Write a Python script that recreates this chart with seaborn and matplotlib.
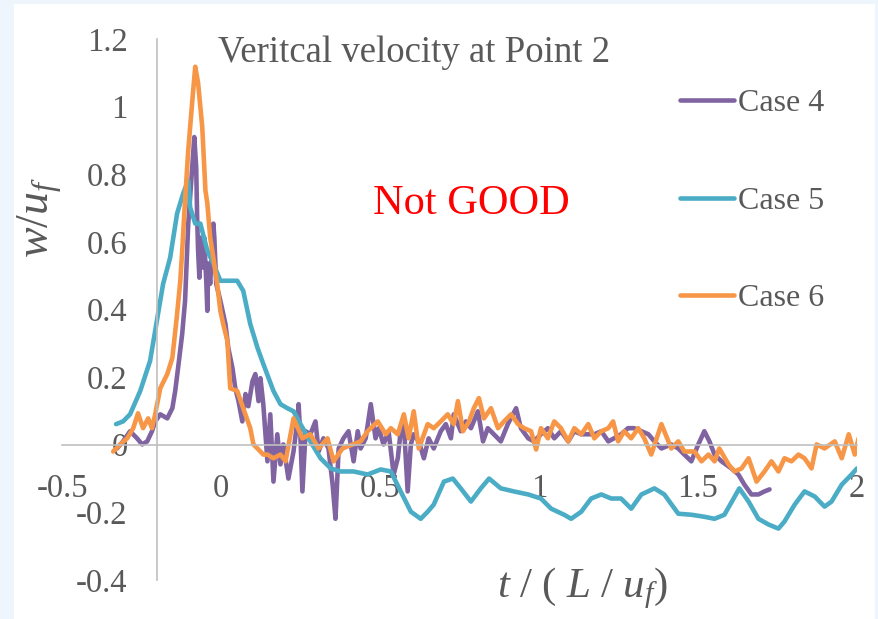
import numpy as np
import pandas as pd
import matplotlib
matplotlib.use("Agg")
import matplotlib.pyplot as plt
from matplotlib.patches import Rectangle
from matplotlib.lines import Line2D
import seaborn as sns

# ---------------- data ----------------
case_names = ["Case 4", "Case 5", "Case 6"]
case_colors = ["#8064A2", "#4BACC6", "#F79646"]

case4_t = [-0.327, -0.308, -0.286, -0.264, -0.248, -0.232, -0.217, -0.207, -0.191, -0.169,
           -0.153, -0.144, -0.135, -0.122, -0.113, -0.103, -0.094, -0.087, -0.084, -0.078,
           -0.075, -0.072, -0.068, -0.062, -0.056, -0.053, -0.046, -0.043, -0.040, -0.034,
           -0.024, -0.021, -0.015, -0.002, 0.014, 0.023, 0.036, 0.045, 0.055, 0.067,
           0.077, 0.086, 0.099, 0.108, 0.118, 0.124, 0.133, 0.146, 0.155, 0.165,
           0.177, 0.187, 0.196, 0.212, 0.228, 0.240, 0.244, 0.250, 0.256, 0.266,
           0.281, 0.297, 0.307, 0.322, 0.338, 0.351, 0.360, 0.370, 0.385, 0.401,
           0.417, 0.430, 0.439, 0.455, 0.471, 0.486, 0.496, 0.511, 0.527, 0.543,
           0.556, 0.565, 0.575, 0.587, 0.597, 0.606, 0.622, 0.638, 0.653, 0.669,
           0.691, 0.707, 0.723, 0.732, 0.754, 0.770, 0.786, 0.808, 0.824, 0.839,
           0.858, 0.880, 0.902, 0.928, 0.943, 0.966, 0.984, 1.006, 1.028, 1.048,
           1.069, 1.092, 1.111, 1.133, 1.155, 1.174, 1.196, 1.218, 1.236, 1.258,
           1.280, 1.299, 1.322, 1.344, 1.363, 1.385, 1.416, 1.438, 1.457, 1.479,
           1.501, 1.520, 1.536, 1.552, 1.574, 1.605, 1.627, 1.646, 1.668, 1.690,
           1.709, 1.725]
case4_w = [-0.011, 0.010, 0.040, 0.019, 0.001, 0.010, 0.040, 0.069, 0.090, 0.078,
           0.108, 0.159, 0.227, 0.328, 0.426, 0.654, 0.773, 0.871, 0.910, 0.821,
           0.672, 0.574, 0.494, 0.613, 0.524, 0.613, 0.476, 0.396, 0.536, 0.476,
           0.654, 0.613, 0.476, 0.426, 0.357, 0.286, 0.227, 0.167, 0.129, 0.069,
           0.150, 0.114, 0.188, 0.209, 0.129, 0.197, 0.120, -0.049, 0.090, -0.109,
           0.031, -0.058, 0.001, -0.100, -0.020, 0.069, 0.120, 0.019, -0.138, 0.040,
           0.031, 0.069, -0.020, 0.019, -0.011, -0.118, -0.219, -0.011, 0.019, 0.040,
           -0.049, 0.040, -0.011, 0.019, 0.120, 0.019, 0.049, 0.001, 0.040, -0.088,
           -0.040, 0.040, 0.061, -0.138, 0.001, 0.031, 0.010, -0.040, 0.019, -0.011,
           0.040, 0.061, 0.019, 0.090, 0.040, 0.069, 0.049, 0.099, 0.010, 0.049,
           0.031, 0.010, 0.061, 0.108, 0.049, 0.019, 0.010, 0.031, 0.049, 0.019,
           0.040, 0.010, 0.040, 0.031, 0.031, 0.031, 0.040, 0.010, 0.019, 0.031,
           0.049, 0.049, 0.040, 0.031, 0.010, -0.011, 0.001, -0.011, -0.029, -0.049,
           0.001, 0.040, 0.010, -0.029, -0.049, -0.070, -0.088, -0.118, -0.147, -0.147,
           -0.138, -0.132]

case5_t = [-0.330, -0.308, -0.286, -0.254, -0.223, -0.191, -0.182, -0.160, -0.138, -0.119,
           -0.103, -0.097, -0.081, -0.065, -0.043, -0.024, -0.002, 0.029, 0.051, 0.070,
           0.092, 0.115, 0.133, 0.165, 0.187, 0.209, 0.228, 0.250, 0.281, 0.313,
           0.345, 0.376, 0.417, 0.461, 0.502, 0.534, 0.565, 0.597, 0.628, 0.650,
           0.669, 0.701, 0.729, 0.754, 0.786, 0.817, 0.843, 0.880, 0.921, 0.966,
           1.006, 1.038, 1.079, 1.101, 1.133, 1.164, 1.196, 1.227, 1.258, 1.290,
           1.322, 1.363, 1.394, 1.438, 1.479, 1.520, 1.552, 1.583, 1.612, 1.630,
           1.659, 1.690, 1.722, 1.753, 1.772, 1.804, 1.835, 1.867, 1.898, 1.920,
           1.952, 1.983, 2.000]
case5_w = [0.061, 0.069, 0.090, 0.159, 0.248, 0.426, 0.476, 0.553, 0.684, 0.743,
           0.782, 0.702, 0.654, 0.654, 0.574, 0.536, 0.485, 0.485, 0.485, 0.455,
           0.357, 0.286, 0.239, 0.159, 0.120, 0.108, 0.099, 0.061, 0.010, -0.040,
           -0.070, -0.079, -0.079, -0.088, -0.073, -0.079, -0.138, -0.198, -0.219, -0.198,
           -0.177, -0.109, -0.100, -0.129, -0.168, -0.129, -0.100, -0.129, -0.138, -0.147,
           -0.159, -0.189, -0.207, -0.219, -0.198, -0.159, -0.147, -0.159, -0.159, -0.189,
           -0.147, -0.129, -0.147, -0.204, -0.207, -0.213, -0.219, -0.207, -0.159, -0.129,
           -0.168, -0.219, -0.236, -0.248, -0.227, -0.177, -0.138, -0.153, -0.183, -0.168,
           -0.118, -0.088, -0.070]

case6_t = [-0.339, -0.317, -0.295, -0.276, -0.261, -0.245, -0.229, -0.217, -0.207, -0.191,
           -0.169, -0.153, -0.138, -0.128, -0.122, -0.113, -0.103, -0.090, -0.081, -0.072,
           -0.059, -0.049, -0.043, -0.034, -0.024, -0.012, -0.002, 0.007, 0.020, 0.029,
           0.051, 0.070, 0.092, 0.102, 0.124, 0.133, 0.146, 0.165, 0.187, 0.203,
           0.228, 0.256, 0.281, 0.307, 0.335, 0.354, 0.382, 0.414, 0.439, 0.461,
           0.493, 0.518, 0.534, 0.556, 0.575, 0.590, 0.606, 0.622, 0.650, 0.669,
           0.691, 0.713, 0.732, 0.745, 0.761, 0.780, 0.795, 0.811, 0.827, 0.849,
           0.871, 0.890, 0.912, 0.934, 0.953, 0.975, 0.991, 1.006, 1.028, 1.048,
           1.069, 1.092, 1.111, 1.133, 1.155, 1.174, 1.196, 1.218, 1.233, 1.249,
           1.268, 1.290, 1.312, 1.331, 1.353, 1.385, 1.416, 1.438, 1.457, 1.489,
           1.511, 1.533, 1.552, 1.567, 1.596, 1.615, 1.637, 1.659, 1.684, 1.709,
           1.731, 1.753, 1.772, 1.794, 1.816, 1.835, 1.857, 1.873, 1.898, 1.930,
           1.952, 1.974, 1.993, 2.005]
case6_w = [-0.020, 0.001, 0.019, 0.049, 0.093, 0.049, 0.078, 0.049, 0.090, 0.167,
           0.209, 0.257, 0.387, 0.485, 0.574, 0.723, 0.871, 1.020, 1.118, 1.070,
           0.940, 0.752, 0.714, 0.613, 0.553, 0.476, 0.396, 0.357, 0.307, 0.167,
           0.159, 0.108, 0.049, 0.001, -0.020, -0.029, -0.029, -0.040, -0.029, -0.049,
           0.078, 0.019, 0.031, -0.011, 0.019, -0.049, -0.011, 0.001, 0.010, 0.040,
           0.069, 0.031, 0.049, 0.031, 0.090, 0.019, 0.099, -0.011, 0.061, 0.049,
           0.069, 0.090, 0.061, 0.129, 0.040, 0.069, 0.108, 0.138, 0.078, 0.108,
           0.049, 0.069, 0.090, 0.061, 0.049, 0.040, -0.014, 0.049, 0.019, 0.069,
           0.049, 0.010, 0.049, 0.031, 0.061, 0.019, 0.040, 0.049, 0.069, 0.010,
           0.040, 0.019, 0.049, 0.019, -0.029, 0.061, -0.011, 0.010, -0.020, -0.020,
           -0.049, -0.029, -0.049, -0.011, -0.058, -0.079, -0.070, -0.040, -0.109, -0.079,
           -0.049, -0.079, -0.040, -0.049, -0.029, -0.040, -0.070, 0.001, -0.011, 0.010,
           -0.040, 0.031, -0.029, 0.019]

x_ticks = [-0.5, 0, 0.5, 1, 1.5, 2]
x_tick_labels = ["-0.5", "0", "0.5", "1", "1.5", "2"]
y_ticks = [-0.4, -0.2, 0, 0.2, 0.4, 0.6, 0.8, 1.0, 1.2]
y_tick_labels = ["-0.4", "-0.2", "0", "0.2", "0.4", "0.6", "0.8", "1", "1.2"]

title_text = "Veritcal velocity at Point 2"
note_text = "Not GOOD"

# ---------------- build long table ----------------
df = pd.concat([
    pd.DataFrame({"t": case4_t, "w": case4_w, "case": case_names[0]}),
    pd.DataFrame({"t": case5_t, "w": case5_w, "case": case_names[1]}),
    pd.DataFrame({"t": case6_t, "w": case6_w, "case": case_names[2]}),
], ignore_index=True)

# ---------------- style ----------------
sns.set_theme(style="white")
plt.rcParams["font.family"] = ["Liberation Serif", "DejaVu Serif"]
plt.rcParams["mathtext.fontset"] = "custom"
plt.rcParams["mathtext.rm"] = "Liberation Serif"
plt.rcParams["mathtext.it"] = "Liberation Serif:italic"
plt.rcParams["mathtext.bf"] = "Liberation Serif:bold"
plt.rcParams["axes.unicode_minus"] = False

LW = 3.3

W, H = 879, 619
fig = plt.figure(figsize=(W / 100, H / 100), dpi=100)
fig.patch.set_facecolor("#eef5fc")
fig.patches.append(Rectangle((14 / W, 0), (875 - 14) / W, 1 - 4 / H,
                             transform=fig.transFigure, facecolor="white",
                             edgecolor="none", zorder=-10))

ax = fig.add_axes([62 / W, 39 / H, 795 / W, 541 / H])
ax.patch.set_alpha(0)

palette = dict(zip(case_names, case_colors))
sns.lineplot(data=df, x="t", y="w", hue="case", palette=palette,
             hue_order=case_names, sort=False, estimator=None,
             linewidth=LW, ax=ax, legend=False)
for ln in ax.lines:
    ln.set_linewidth(LW)
    ln.set_solid_joinstyle("round")
    ln.set_solid_capstyle("round")

ax.set_xlim(-0.5, 2.0)
ax.set_ylim(-0.4, 1.2)

axis_col = "#BFBFBF"
text_col = "#595959"
for s in ["top", "right"]:
    ax.spines[s].set_visible(False)
ax.spines["left"].set_position(("data", -0.2))
ax.spines["bottom"].set_position(("data", 0))
for s in ["left", "bottom"]:
    ax.spines[s].set_color(axis_col)
    ax.spines[s].set_linewidth(1.2)

ax.set_xticks(x_ticks)
ax.set_xticklabels(x_tick_labels)
ax.set_yticks(y_ticks)
ax.set_yticklabels(y_tick_labels)
ax.tick_params(axis="x", direction="in", length=7, width=1.2, color=axis_col,
               labelsize=23.5, labelcolor=text_col, pad=21)
ax.tick_params(axis="y", direction="in", length=7, width=1.2, color=axis_col,
               labelsize=23.5, labelcolor=text_col, pad=21.5)
ax.set_xlabel("")
ax.set_ylabel("")
ax.grid(False)

# axis titles
fig.text(40 / W, 1 - 218 / H, r"$w/u_f$", rotation=90, ha="center", va="center",
         fontsize=33, color=text_col)
fig.text(583 / W, 1 - 588 / H, r"$t\ /\ (\ L\ /\ u_f)$", ha="center", va="center",
         fontsize=31, color=text_col)

# chart title and note
fig.text(218 / W, 1 - 62 / H, title_text, ha="left", va="baseline",
         fontsize=26.5, color=text_col)
fig.text(373 / W, 1 - 214 / H, note_text, ha="left", va="baseline",
         fontsize=30.5, color="#FF0000")

# legend
handles = [Line2D([], [], color=c, lw=LW) for c in case_colors]
ax.legend(handles, case_names, loc="upper left",
          bbox_to_anchor=(680 / W, 1 - 89 / H), bbox_transform=fig.transFigure,
          frameon=False, fontsize=23, labelcolor=text_col,
          handlelength=1.7, handletextpad=0.13, labelspacing=2.13,
          borderpad=0, borderaxespad=0)

fig.savefig("out.png", dpi=100, facecolor=fig.get_facecolor())
